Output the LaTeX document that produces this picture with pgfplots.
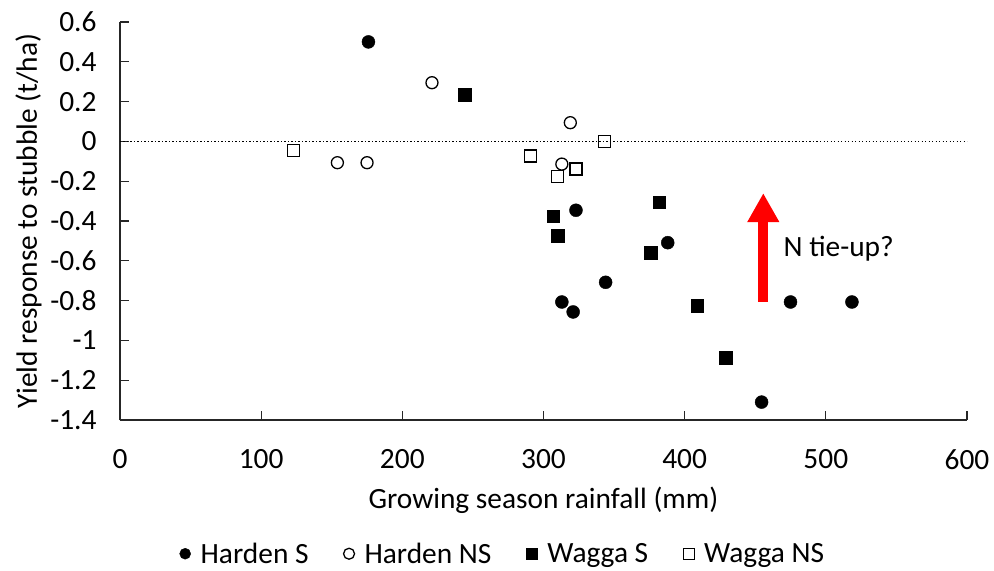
\documentclass[border=0pt]{standalone}
\usepackage{fontspec}
\setmainfont{Carlito}
\usepackage{pgfplots}
\pgfplotsset{compat=1.18}
\usetikzlibrary{arrows.meta}

\begin{document}
\begin{tikzpicture}[font=\fontsize{29.5}{35}\selectfont]
\begin{axis}[
  scale only axis,
  width=847bp, height=398bp,
  xmin=0, xmax=600, ymin=-1.4, ymax=0.6,
  axis x line=bottom, axis y line=left,
  axis line style={-, black!85, line width=1.1bp},
  xtick={0,100,...,600},
  ytick={-1.4,-1.2,-1,-0.8,-0.6,-0.4,-0.2,0,0.2,0.4,0.6},
  hide obscured x ticks=false, hide obscured y ticks=false,
  tick align=inside, major tick length=9bp,
  tick style={black!85, line width=1.1bp},
  /pgf/number format/assume math mode=true,
  xticklabel style={yshift=-26bp},
  yticklabel style={xshift=-20bp},
  xlabel={Growing season rainfall (mm)},
  ylabel={Yield response to stubble (t/ha)},
  xlabel style={at={(axis description cs:0.5,0)}, anchor=center, yshift=-80bp},
  ylabel style={at={(axis description cs:-0.108,0.5)}, anchor=center},
  clip=false,
  legend columns=4,
  legend style={draw=none, fill=none, at={(axis description cs:0.452,-0.336)}, anchor=center,
    /tikz/every odd column/.append style={column sep=8bp},
    /tikz/every even column/.append style={column sep=33bp}},
  legend image code/.code={\draw[#1, mark size=5.5bp] plot coordinates {(0bp,0bp)};},
]
\addplot[black, dash pattern=on 1.3bp off 2.2bp, line width=1.1bp, forget plot] coordinates {(0,0) (600,0)};

% Harden S
\addplot[only marks, mark=*, mark size=6.5bp, black] coordinates {
  (176,0.5) (313,-0.807) (321,-0.857) (323,-0.346) (344,-0.708)
  (388,-0.509) (454.5,-1.31) (475,-0.807) (518.5,-0.807)
};
\addlegendentry{Harden S}
% Harden NS
\addplot[only marks, mark=o, mark size=6bp, black, mark options={line width=1.3bp}] coordinates {
  (154,-0.107) (175,-0.107) (221,0.295) (313,-0.114) (319,0.094)
};
\addlegendentry{Harden NS}
% Wagga S
\addplot[only marks, mark=square*, mark size=6.3bp, black] coordinates {
  (244,0.235) (307,-0.376) (310,-0.475) (376,-0.559) (382,-0.306)
  (409,-0.827) (429,-1.088)
};
\addlegendentry{Wagga S}
% Wagga NS
\addplot[only marks, mark=square, mark size=6bp, black, mark options={line width=1.3bp}] coordinates {
  (123,-0.047) (291,-0.073) (310,-0.175) (323,-0.139) (343,0)
};
\addlegendentry{Wagga NS}

\draw[red, line width=10bp, -{Triangle[width=30bp, length=29bp]}]
  (axis cs:455.7,-0.805) -- (axis cs:455.7,-0.26);
\node[anchor=west, inner sep=0pt] at (axis cs:470,-0.537) {N tie-up?};
\end{axis}
\pgfresetboundingbox
\path (current axis.south west) ++(-120bp,-151bp) rectangle ++(994bp,571bp);
\end{tikzpicture}
\end{document}
